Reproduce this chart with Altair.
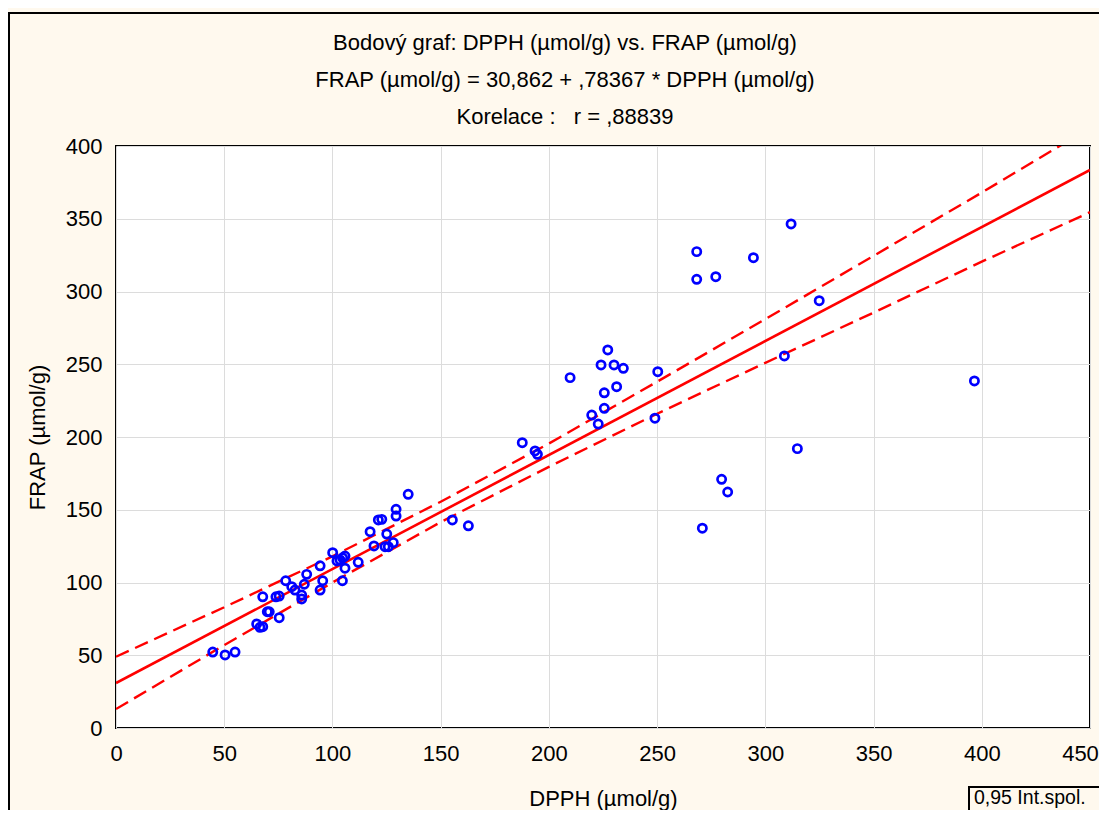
import altair as alt
import pandas as pd

# ---- data ----
dpph = [44.7, 50.4, 55.0, 65.0, 66.5, 67.8, 67.8, 69.9, 70.8, 75.4,
        73.9, 75.4, 78.4, 81.2, 82.7, 85.8, 85.8, 87.0, 88.1, 94.3,
        94.3, 95.5, 100.1, 102.1, 103.5, 104.7, 105.8, 105.8, 104.6, 111.9,
        117.4, 119.2, 121.2, 122.8, 124.3, 125.8, 125.1, 128.1, 129.4, 129.4,
        135.0, 155.4, 162.8, 187.7, 193.6, 194.7, 209.8, 219.8, 222.8, 225.6,
        225.6, 224.1, 227.2, 230.1, 234.4, 231.3, 249.0, 250.3, 268.3, 268.3,
        277.1, 294.5, 311.9, 324.9, 308.8, 396.6, 314.8, 270.9, 279.8, 282.6]
frap = [52.2, 50.2, 52.2, 71.5, 69.2, 69.6, 90.2, 79.9, 79.9, 75.8,
        90.2, 90.7, 101.2, 97.1, 94.8, 91.4, 88.7, 98.8, 105.6, 111.5,
        94.8, 101.2, 120.5, 114.8, 115.5, 117.0, 118.2, 109.8, 101.2, 113.9,
        134.9, 125.1, 143.0, 143.4, 124.6, 124.6, 133.3, 127.4, 150.3, 145.7,
        160.6, 143.0, 139.0, 196.1, 190.4, 188.1, 240.8, 215.1, 208.9, 219.7,
        230.4, 249.5, 259.8, 249.5, 247.2, 234.6, 212.9, 244.9, 327.4, 308.4,
        310.2, 323.2, 346.4, 293.7, 255.7, 238.5, 192.0, 137.3, 170.9, 162.2]

fit_x = [0, 450]
fit_y = [30.9, 383.5]

band_x = [0, 50, 100, 150, 200, 250, 300, 350, 400, 450]
band_upper = [49, 83, 118, 155.5, 195.5, 238, 281, 324.5, 368, 412.5]
band_lower = [13, 57, 100, 141.5, 179.5, 216, 251, 285.5, 320.5, 354.5]

x_ticks = [0, 50, 100, 150, 200, 250, 300, 350, 400, 450]
y_ticks = [0, 50, 100, 150, 200, 250, 300, 350, 400]

title_lines = [
    "Bodový graf: DPPH (µmol/g) vs. FRAP (µmol/g)",
    "FRAP (µmol/g) = 30,862 + ,78367 * DPPH (µmol/g)",
    "Korelace :\u00a0\u00a0\u00a0r = ,88839",
]
x_title = "DPPH (µmol/g)"
y_title = "FRAP (µmol/g)"
legend_label = "0,95 Int.spol."

FONT = "Liberation Sans"
CREAM = "#FFF9EE"
W, H = 974, 582

# ---- tables ----
df_pts = pd.DataFrame({"x": dpph, "y": frap})
df_fit = pd.DataFrame({"x": fit_x, "y": fit_y})
df_band = pd.concat([
    pd.DataFrame({"x": band_x, "y": band_upper, "band": "upper"}),
    pd.DataFrame({"x": band_x, "y": band_lower, "band": "lower"}),
])
one = pd.DataFrame({"a": [0]})

x_enc = alt.X("x:Q", scale=alt.Scale(domain=[0, 450], nice=False, zero=False),
              axis=alt.Axis(values=x_ticks, title=x_title, titleX=W / 2, titleY=70,
                            titleBaseline="middle", titleAlign="center",
                            labelPadding=15, labelFlush=False,
                            labelOffset=alt.ExprRef("datum.value == 450 ? -10 : 0")))
y_enc = alt.Y("y:Q", scale=alt.Scale(domain=[0, 400], nice=False, zero=False),
              axis=alt.Axis(values=y_ticks, title=y_title, titleAngle=270,
                            titleX=-79, titleY=H / 2, titleBaseline="middle",
                            titleAlign="center", labelPadding=14, labelFlush=False))

border = alt.Chart(one).mark_rect(filled=False, color="black", strokeWidth=2).encode(
    x=alt.value(-107), x2=alt.value(1030), y=alt.value(-133), y2=alt.value(760))

points = alt.Chart(df_pts).mark_point(shape="circle", filled=False, color="#0000FF",
                                      size=68, strokeWidth=2.7, opacity=1).encode(x=x_enc, y=y_enc)

fit = alt.Chart(df_fit).mark_line(color="#FF0000", strokeWidth=2.6, clip=True).encode(
    x=x_enc, y=y_enc)

bands = alt.Chart(df_band).mark_line(color="#FF0000", strokeWidth=2.4, strokeDash=[14, 7],
                                     clip=True).encode(x=x_enc, y=y_enc, detail="band:N")

title_layers = []
for line, yy in zip(title_lines, [-103, -66, -29]):
    title_layers.append(
        alt.Chart(pd.DataFrame({"t": [line]})).mark_text(
            font=FONT, fontSize=22, align="center", baseline="middle", color="black"
        ).encode(x=alt.value(449), y=alt.value(yy), text="t:N")
    )

legend_box = alt.Chart(one).mark_rect(fill=CREAM, stroke="black", strokeWidth=2).encode(
    x=alt.value(853), x2=alt.value(1030), y=alt.value(641), y2=alt.value(760))
legend_text = alt.Chart(pd.DataFrame({"t": [legend_label]})).mark_text(
    font=FONT, fontSize=19.5, align="left", baseline="middle", color="black"
).encode(x=alt.value(858), y=alt.value(652), text="t:N")

chart = alt.layer(border, bands, fit, points, legend_box, legend_text, *title_layers).properties(
    width=W, height=H,
    autosize=alt.AutoSizeParams(type="none"),
    padding={"left": 108, "top": 138, "right": 9, "bottom": 82},
    background=CREAM,
).configure_view(
    fill="white", stroke="black", strokeWidth=2
).configure_axis(
    grid=True, gridColor="#DCDCDC", gridWidth=1, tickSize=0, domain=False,
    labelFont=FONT, labelFontSize=22, labelColor="black",
    titleFont=FONT, titleFontSize=22, titleFontWeight="normal", titleColor="black",
)

chart.save("out.html", embed_options={"renderer": "svg", "actions": False})
